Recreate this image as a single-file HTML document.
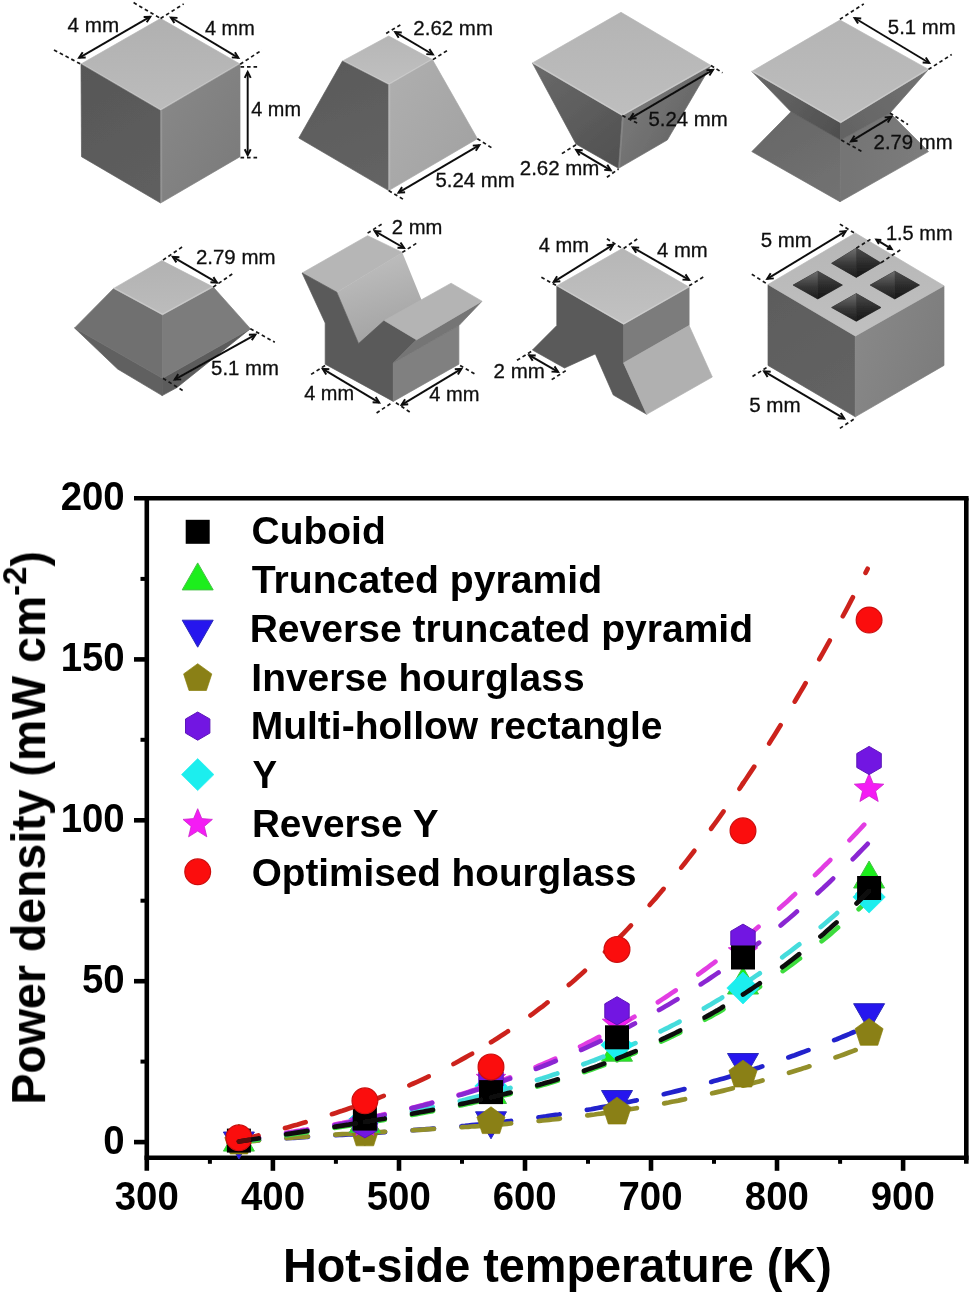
<!DOCTYPE html>
<html lang="en">
<head>
<meta charset="utf-8">
<title>Thermoelectric leg geometries and power density</title>
<style>
html,body{margin:0;padding:0;background:#fff;}
body{width:973px;height:1296px;overflow:hidden;}
svg{display:block;font-family:"Liberation Sans", Arial, Helvetica, sans-serif;}
</style>
</head>
<body>
<svg width="973" height="1296" viewBox="0 0 973 1296">
<rect width="973" height="1296" fill="#ffffff"/>
<defs>
<filter id="soft" x="-5%" y="-5%" width="110%" height="110%"><feGaussianBlur stdDeviation="0.6"/></filter>
<filter id="soft2" x="-5%" y="-5%" width="110%" height="110%"><feGaussianBlur stdDeviation="0.42"/></filter>
<linearGradient id="gSlope" x1="0" y1="0" x2="0.3" y2="1"><stop offset="0" stop-color="#c2c2c2"/><stop offset="1" stop-color="#a4a4a4"/></linearGradient>
<linearGradient id="gHoleL" x1="0" y1="0" x2="0" y2="1"><stop offset="0" stop-color="#707070"/><stop offset="0.55" stop-color="#383838"/><stop offset="1" stop-color="#1c1c1c"/></linearGradient>
<linearGradient id="gHoleR" x1="0" y1="0" x2="0" y2="1"><stop offset="0" stop-color="#4c4c4c"/><stop offset="0.55" stop-color="#2a2a2a"/><stop offset="1" stop-color="#161616"/></linearGradient>
</defs>
<g id="shapes" filter="url(#soft)">
<linearGradient id="lg1" gradientUnits="userSpaceOnUse" x1="160.6" y1="18.5" x2="160.6" y2="110.5"><stop offset="0" stop-color="#b0b0b0"/><stop offset="1" stop-color="#bcbcbc"/></linearGradient>
<polygon points="160.6,18.5 240.0,64.0 160.6,110.5 81.0,64.0" fill="url(#lg1)" stroke="url(#lg1)" stroke-width="0.7" stroke-linejoin="round"/>
<linearGradient id="lg2" gradientUnits="userSpaceOnUse" x1="81.0" y1="64.0" x2="160.6" y2="203.0"><stop offset="0" stop-color="#575757"/><stop offset="1" stop-color="#5f5f5f"/></linearGradient>
<polygon points="81.0,64.0 160.6,110.5 160.6,203.0 81.5,156.7" fill="url(#lg2)" stroke="url(#lg2)" stroke-width="0.7" stroke-linejoin="round"/>
<linearGradient id="lg3" gradientUnits="userSpaceOnUse" x1="160.6" y1="110.5" x2="240.0" y2="156.7"><stop offset="0" stop-color="#878787"/><stop offset="1" stop-color="#7c7c7c"/></linearGradient>
<polygon points="160.6,110.5 240.0,64.0 240.0,156.7 160.6,203.0" fill="url(#lg3)" stroke="url(#lg3)" stroke-width="0.7" stroke-linejoin="round"/>
<polyline points="81.0,63.4 160.6,109.9 240.0,63.4" fill="none" stroke="#ffffff" stroke-opacity="0.22" stroke-width="1.3" stroke-linejoin="round"/>
<polyline points="161.5,110.5 161.5,203.0" fill="none" stroke="#ffffff" stroke-opacity="0.14" stroke-width="1.4" stroke-linejoin="round"/>
<linearGradient id="lg4" gradientUnits="userSpaceOnUse" x1="388.7" y1="36.0" x2="388.7" y2="84.8"><stop offset="0" stop-color="#b6b6b6"/><stop offset="1" stop-color="#c0c0c0"/></linearGradient>
<polygon points="388.7,36.0 432.4,59.6 388.7,84.8 342.5,61.0" fill="url(#lg4)" stroke="url(#lg4)" stroke-width="0.7" stroke-linejoin="round"/>
<linearGradient id="lg5" gradientUnits="userSpaceOnUse" x1="342.5" y1="61.0" x2="388.7" y2="190.6"><stop offset="0" stop-color="#5a5a5a"/><stop offset="1" stop-color="#646464"/></linearGradient>
<polygon points="342.5,61.0 388.7,84.8 388.7,190.6 298.8,138.0" fill="url(#lg5)" stroke="url(#lg5)" stroke-width="0.7" stroke-linejoin="round"/>
<linearGradient id="lg6" gradientUnits="userSpaceOnUse" x1="388.7" y1="84.8" x2="477.4" y2="138.7"><stop offset="0" stop-color="#aeaeae"/><stop offset="1" stop-color="#a3a3a3"/></linearGradient>
<polygon points="388.7,84.8 432.4,59.6 477.4,138.7 388.7,190.6" fill="url(#lg6)" stroke="url(#lg6)" stroke-width="0.7" stroke-linejoin="round"/>
<polyline points="342.5,60.4 388.7,84.2 432.4,59.0" fill="none" stroke="#ffffff" stroke-opacity="0.22" stroke-width="1.3" stroke-linejoin="round"/>
<polyline points="389.6,84.8 389.6,190.6" fill="none" stroke="#ffffff" stroke-opacity="0.14" stroke-width="1.4" stroke-linejoin="round"/>
<linearGradient id="lg7" gradientUnits="userSpaceOnUse" x1="532.4" y1="63.0" x2="618.5" y2="168.3"><stop offset="0" stop-color="#6a6a6a"/><stop offset="1" stop-color="#505050"/></linearGradient>
<polygon points="532.4,63.0 622.3,115.6 618.5,168.3 576.0,144.0" fill="url(#lg7)" stroke="url(#lg7)" stroke-width="0.7" stroke-linejoin="round"/>
<linearGradient id="lg8" gradientUnits="userSpaceOnUse" x1="622.3" y1="115.6" x2="667.3" y2="140.0"><stop offset="0" stop-color="#787878"/><stop offset="1" stop-color="#6a6a6a"/></linearGradient>
<polygon points="622.3,115.6 711.0,65.5 667.3,140.0 618.5,168.3" fill="url(#lg8)" stroke="url(#lg8)" stroke-width="0.7" stroke-linejoin="round"/>
<linearGradient id="lg9" gradientUnits="userSpaceOnUse" x1="621.0" y1="12.3" x2="622.3" y2="115.6"><stop offset="0" stop-color="#b4b4b4"/><stop offset="1" stop-color="#bebebe"/></linearGradient>
<polygon points="621.0,12.3 711.0,65.5 622.3,115.6 532.4,63.0" fill="url(#lg9)" stroke="url(#lg9)" stroke-width="0.7" stroke-linejoin="round"/>
<polyline points="532.4,62.4 622.3,115.0 711.0,64.9" fill="none" stroke="#ffffff" stroke-opacity="0.22" stroke-width="1.3" stroke-linejoin="round"/>
<polyline points="623.2,115.6 619.4,168.3" fill="none" stroke="#ffffff" stroke-opacity="0.12" stroke-width="1.3" stroke-linejoin="round"/>
<linearGradient id="lg10" gradientUnits="userSpaceOnUse" x1="791.0" y1="111.8" x2="840.0" y2="201.7"><stop offset="0" stop-color="#686868"/><stop offset="1" stop-color="#727272"/></linearGradient>
<polygon points="791.0,111.8 840.7,140.0 840.0,201.7 751.8,151.6" fill="url(#lg10)" stroke="url(#lg10)" stroke-width="0.7" stroke-linejoin="round"/>
<linearGradient id="lg11" gradientUnits="userSpaceOnUse" x1="840.7" y1="140.0" x2="928.5" y2="151.6"><stop offset="0" stop-color="#747474"/><stop offset="1" stop-color="#7c7c7c"/></linearGradient>
<polygon points="840.7,140.0 890.0,113.0 928.5,151.6 840.0,201.7" fill="url(#lg11)" stroke="url(#lg11)" stroke-width="0.7" stroke-linejoin="round"/>
<linearGradient id="lg12" gradientUnits="userSpaceOnUse" x1="751.8" y1="71.4" x2="840.7" y2="140.0"><stop offset="0" stop-color="#6a6a6a"/><stop offset="1" stop-color="#4e4e4e"/></linearGradient>
<polygon points="751.8,71.4 840.7,122.8 840.7,140.0 791.0,111.8" fill="url(#lg12)" stroke="url(#lg12)" stroke-width="0.7" stroke-linejoin="round"/>
<linearGradient id="lg13" gradientUnits="userSpaceOnUse" x1="840.7" y1="140.0" x2="928.5" y2="69.4"><stop offset="0" stop-color="#626262"/><stop offset="1" stop-color="#727272"/></linearGradient>
<polygon points="840.7,122.8 928.5,69.4 890.0,113.0 840.7,140.0" fill="url(#lg13)" stroke="url(#lg13)" stroke-width="0.7" stroke-linejoin="round"/>
<linearGradient id="lg14" gradientUnits="userSpaceOnUse" x1="840.0" y1="20.0" x2="840.7" y2="122.8"><stop offset="0" stop-color="#b4b4b4"/><stop offset="1" stop-color="#bebebe"/></linearGradient>
<polygon points="840.0,20.0 928.5,69.4 840.7,122.8 751.8,71.4" fill="url(#lg14)" stroke="url(#lg14)" stroke-width="0.7" stroke-linejoin="round"/>
<polyline points="751.8,70.8 840.7,122.2 928.5,68.8" fill="none" stroke="#ffffff" stroke-opacity="0.22" stroke-width="1.3" stroke-linejoin="round"/>
<polygon points="74.6,328.0 162.5,378.3 162.2,395.6 117.6,369.0" fill="#606060"  stroke="#606060" stroke-width="0.7" stroke-linejoin="round"/>
<polygon points="162.5,378.3 250.4,328.7 177.0,387.5 162.2,395.6" fill="#5c5c5c"  stroke="#5c5c5c" stroke-width="0.7" stroke-linejoin="round"/>
<polygon points="113.7,288.4 162.5,314.8 162.5,378.3 74.6,328.0" fill="#707070"  stroke="#707070" stroke-width="0.7" stroke-linejoin="round"/>
<polygon points="162.5,314.8 213.2,287.0 250.4,328.7 162.5,378.3" fill="#7c7c7c"  stroke="#7c7c7c" stroke-width="0.7" stroke-linejoin="round"/>
<linearGradient id="lg15" gradientUnits="userSpaceOnUse" x1="161.8" y1="260.6" x2="162.5" y2="314.8"><stop offset="0" stop-color="#b2b2b2"/><stop offset="1" stop-color="#bcbcbc"/></linearGradient>
<polygon points="161.8,260.6 213.2,287.0 162.5,314.8 113.7,288.4" fill="url(#lg15)" stroke="url(#lg15)" stroke-width="0.7" stroke-linejoin="round"/>
<polyline points="113.7,287.8 162.5,314.2 213.2,286.4" fill="none" stroke="#ffffff" stroke-opacity="0.22" stroke-width="1.3" stroke-linejoin="round"/>
<polygon points="336.8,292.2 402.3,252.4 424.1,306.3 358.6,343.6" fill="url(#gSlope)" />
<polygon points="302.1,273.0 367.6,235.7 402.3,252.4 336.8,292.2" fill="#b6b6b6"  stroke="#b6b6b6" stroke-width="0.7" stroke-linejoin="round"/>
<polygon points="302.1,273.0 336.8,292.2 358.6,343.6 384.3,320.5 416.5,339.8 393.3,362.9 393.3,401.4 325.2,364.2 325.2,323.0" fill="#5a5a5a"  stroke="#5a5a5a" stroke-width="0.7" stroke-linejoin="round"/>
<polygon points="393.3,362.9 458.9,325.6 458.9,364.2 393.3,401.4" fill="#808080"  stroke="#808080" stroke-width="0.7" stroke-linejoin="round"/>
<polygon points="416.5,339.8 482.0,301.2 458.9,325.6 393.3,362.9" fill="#747474"  stroke="#747474" stroke-width="0.7" stroke-linejoin="round"/>
<polygon points="451.1,283.2 482.0,301.2 416.5,339.8 384.3,320.5" fill="#b4b4b4"  stroke="#b4b4b4" stroke-width="0.7" stroke-linejoin="round"/>
<polygon points="556.8,285.8 623.6,324.3 623.6,362.9 646.7,414.3 613.3,395.0 595.3,353.9 564.5,368.0 532.4,350.0 556.8,325.6" fill="#5a5a5a"  stroke="#5a5a5a" stroke-width="0.7" stroke-linejoin="round"/>
<polygon points="623.6,324.3 689.1,287.1 689.1,325.6 623.6,362.9" fill="#7c7c7c"  stroke="#7c7c7c" stroke-width="0.7" stroke-linejoin="round"/>
<polygon points="623.6,362.9 689.1,325.6 712.3,377.0 646.7,414.3" fill="#b0b0b0"  stroke="#b0b0b0" stroke-width="0.7" stroke-linejoin="round"/>
<linearGradient id="lg16" gradientUnits="userSpaceOnUse" x1="622.3" y1="248.5" x2="623.6" y2="324.3"><stop offset="0" stop-color="#b6b6b6"/><stop offset="1" stop-color="#c2c2c2"/></linearGradient>
<polygon points="622.3,248.5 689.1,287.1 623.6,324.3 556.8,285.8" fill="url(#lg16)" stroke="url(#lg16)" stroke-width="0.7" stroke-linejoin="round"/>
<polyline points="556.8,285.2 623.6,323.7 689.1,286.5" fill="none" stroke="#ffffff" stroke-opacity="0.22" stroke-width="1.3" stroke-linejoin="round"/>
<linearGradient id="lg17" gradientUnits="userSpaceOnUse" x1="768.0" y1="284.5" x2="855.3" y2="416.8"><stop offset="0" stop-color="#5c5c5c"/><stop offset="1" stop-color="#646464"/></linearGradient>
<polygon points="768.0,284.5 855.3,336.0 855.3,416.8 768.0,365.4" fill="url(#lg17)" stroke="url(#lg17)" stroke-width="0.7" stroke-linejoin="round"/>
<linearGradient id="lg18" gradientUnits="userSpaceOnUse" x1="855.3" y1="336.0" x2="944.0" y2="365.4"><stop offset="0" stop-color="#888888"/><stop offset="1" stop-color="#7c7c7c"/></linearGradient>
<polygon points="855.3,336.0 944.0,285.8 944.0,365.4 855.3,416.8" fill="url(#lg18)" stroke="url(#lg18)" stroke-width="0.7" stroke-linejoin="round"/>
<linearGradient id="lg19" gradientUnits="userSpaceOnUse" x1="855.3" y1="233.0" x2="855.3" y2="336.0"><stop offset="0" stop-color="#b6b6b6"/><stop offset="1" stop-color="#c0c0c0"/></linearGradient>
<polygon points="855.3,233.0 944.0,285.8 855.3,336.0 768.0,284.5" fill="url(#lg19)" stroke="url(#lg19)" stroke-width="0.7" stroke-linejoin="round"/>
<polygon points="856.3,248.1 881.0,262.9 856.3,277.4 831.6,263.3" fill="#303030"  stroke="#303030" stroke-width="0.7" stroke-linejoin="round"/>
<polygon points="856.3,248.1 881.0,262.9 856.3,277.4" fill="url(#gHoleR)" />
<polygon points="856.3,248.1 831.6,263.3 856.3,277.4" fill="url(#gHoleL)" />
<polygon points="817.8,271.2 842.4,285.1 817.8,299.0 793.1,285.1" fill="#303030"  stroke="#303030" stroke-width="0.7" stroke-linejoin="round"/>
<polygon points="817.8,271.2 842.4,285.1 817.8,299.0" fill="url(#gHoleR)" />
<polygon points="817.8,271.2 793.1,285.1 817.8,299.0" fill="url(#gHoleL)" />
<polygon points="894.8,271.2 919.5,285.1 894.8,299.0 870.2,285.1" fill="#303030"  stroke="#303030" stroke-width="0.7" stroke-linejoin="round"/>
<polygon points="894.8,271.2 919.5,285.1 894.8,299.0" fill="url(#gHoleR)" />
<polygon points="894.8,271.2 870.2,285.1 894.8,299.0" fill="url(#gHoleL)" />
<polygon points="856.3,293.6 881.0,307.5 856.3,321.3 831.6,307.5" fill="#303030"  stroke="#303030" stroke-width="0.7" stroke-linejoin="round"/>
<polygon points="856.3,293.6 881.0,307.5 856.3,321.3" fill="url(#gHoleR)" />
<polygon points="856.3,293.6 831.6,307.5 856.3,321.3" fill="url(#gHoleL)" />
</g>
<g id="dims" filter="url(#soft2)">
<line x1="79.1" y1="57.8" x2="150.3" y2="16.7" stroke="#111" stroke-width="1.95" />
<polyline points="82.7,52.3 79.1,57.8 85.7,57.5" fill="none" stroke="#111" stroke-width="1.95" stroke-linejoin="miter"/>
<polyline points="146.7,22.2 150.3,16.7 143.7,17.0" fill="none" stroke="#111" stroke-width="1.95" stroke-linejoin="miter"/>
<line x1="54.0" y1="50.1" x2="81.0" y2="64.2" stroke="#161616" stroke-width="1.7" stroke-dasharray="3.6 2.9"/>
<line x1="133.6" y1="2.6" x2="160.6" y2="18.5" stroke="#161616" stroke-width="1.7" stroke-dasharray="3.6 2.9"/>
<text x="67.59" y="32.1" font-size="19.5" fill="#101010" stroke="#101010" stroke-width="0.3" textLength="51.56" lengthAdjust="spacingAndGlyphs">4 mm</text>
<line x1="170.9" y1="17.5" x2="238.4" y2="57.8" stroke="#111" stroke-width="1.95" />
<polyline points="177.5,17.9 170.9,17.5 174.4,23.1" fill="none" stroke="#111" stroke-width="1.95" stroke-linejoin="miter"/>
<polyline points="231.8,57.4 238.4,57.8 234.9,52.2" fill="none" stroke="#111" stroke-width="1.95" stroke-linejoin="miter"/>
<line x1="160.6" y1="18.5" x2="183.7" y2="3.9" stroke="#161616" stroke-width="1.7" stroke-dasharray="3.6 2.9"/>
<line x1="240.2" y1="64.2" x2="262.0" y2="50.0" stroke="#161616" stroke-width="1.7" stroke-dasharray="3.6 2.9"/>
<text x="205.00" y="35.4" font-size="19.5" fill="#101010" stroke="#101010" stroke-width="0.3" textLength="49.68" lengthAdjust="spacingAndGlyphs">4 mm</text>
<line x1="247.7" y1="72.0" x2="247.7" y2="155.2" stroke="#111" stroke-width="1.95" />
<polyline points="250.7,77.9 247.7,72.0 244.7,77.9" fill="none" stroke="#111" stroke-width="1.95" stroke-linejoin="miter"/>
<polyline points="244.7,149.3 247.7,155.2 250.7,149.3" fill="none" stroke="#111" stroke-width="1.95" stroke-linejoin="miter"/>
<line x1="240.5" y1="66.9" x2="259.5" y2="66.9" stroke="#161616" stroke-width="1.7" stroke-dasharray="3.6 2.9"/>
<line x1="240.5" y1="157.6" x2="259.5" y2="157.6" stroke="#161616" stroke-width="1.7" stroke-dasharray="3.6 2.9"/>
<text x="251.30" y="115.6" font-size="19.5" fill="#101010" stroke="#101010" stroke-width="0.3" textLength="49.68" lengthAdjust="spacingAndGlyphs">4 mm</text>
<line x1="395.2" y1="32.1" x2="432.9" y2="54.5" stroke="#111" stroke-width="1.95" />
<polyline points="401.8,32.5 395.2,32.1 398.7,37.7" fill="none" stroke="#111" stroke-width="1.95" stroke-linejoin="miter"/>
<polyline points="426.3,54.1 432.9,54.5 429.4,48.9" fill="none" stroke="#111" stroke-width="1.95" stroke-linejoin="miter"/>
<line x1="386.2" y1="33.4" x2="400.3" y2="24.9" stroke="#161616" stroke-width="1.7" stroke-dasharray="3.6 2.9"/>
<line x1="432.9" y1="59.6" x2="447.8" y2="50.1" stroke="#161616" stroke-width="1.7" stroke-dasharray="3.6 2.9"/>
<text x="413.38" y="34.7" font-size="19.5" fill="#101010" stroke="#101010" stroke-width="0.3" textLength="79.55" lengthAdjust="spacingAndGlyphs">2.62 mm</text>
<line x1="398.5" y1="192.7" x2="479.4" y2="145.2" stroke="#111" stroke-width="1.95" />
<polyline points="402.1,187.1 398.5,192.7 405.1,192.3" fill="none" stroke="#111" stroke-width="1.95" stroke-linejoin="miter"/>
<polyline points="475.8,150.8 479.4,145.2 472.8,145.6" fill="none" stroke="#111" stroke-width="1.95" stroke-linejoin="miter"/>
<line x1="388.7" y1="190.6" x2="404.2" y2="199.9" stroke="#161616" stroke-width="1.7" stroke-dasharray="3.6 2.9"/>
<line x1="477.4" y1="138.7" x2="492.8" y2="148.5" stroke="#161616" stroke-width="1.7" stroke-dasharray="3.6 2.9"/>
<text x="435.49" y="187.0" font-size="19.5" fill="#101010" stroke="#101010" stroke-width="0.3" textLength="79.24" lengthAdjust="spacingAndGlyphs">5.24 mm</text>
<line x1="630.0" y1="118.7" x2="713.0" y2="69.9" stroke="#111" stroke-width="1.95" />
<polyline points="633.6,113.1 630.0,118.7 636.6,118.3" fill="none" stroke="#111" stroke-width="1.95" stroke-linejoin="miter"/>
<polyline points="709.4,75.5 713.0,69.9 706.4,70.3" fill="none" stroke="#111" stroke-width="1.95" stroke-linejoin="miter"/>
<line x1="711.0" y1="65.5" x2="722.5" y2="72.7" stroke="#161616" stroke-width="1.7" stroke-dasharray="3.6 2.9"/>
<line x1="622.3" y1="115.6" x2="637.7" y2="123.3" stroke="#161616" stroke-width="1.7" stroke-dasharray="3.6 2.9"/>
<text x="648.49" y="126.4" font-size="19.5" fill="#101010" stroke="#101010" stroke-width="0.3" textLength="79.34" lengthAdjust="spacingAndGlyphs">5.24 mm</text>
<line x1="576.1" y1="149.8" x2="610.8" y2="170.3" stroke="#111" stroke-width="1.95" />
<polyline points="582.7,150.2 576.1,149.8 579.6,155.4" fill="none" stroke="#111" stroke-width="1.95" stroke-linejoin="miter"/>
<polyline points="604.2,169.9 610.8,170.3 607.3,164.7" fill="none" stroke="#111" stroke-width="1.95" stroke-linejoin="miter"/>
<line x1="561.9" y1="153.6" x2="576.1" y2="144.7" stroke="#161616" stroke-width="1.7" stroke-dasharray="3.6 2.9"/>
<line x1="606.9" y1="177.3" x2="618.5" y2="169.0" stroke="#161616" stroke-width="1.7" stroke-dasharray="3.6 2.9"/>
<text x="519.78" y="175.2" font-size="19.5" fill="#101010" stroke="#101010" stroke-width="0.3" textLength="79.55" lengthAdjust="spacingAndGlyphs">2.62 mm</text>
<line x1="854.6" y1="18.0" x2="929.3" y2="63.0" stroke="#111" stroke-width="1.95" />
<polyline points="861.2,18.5 854.6,18.0 858.1,23.6" fill="none" stroke="#111" stroke-width="1.95" stroke-linejoin="miter"/>
<polyline points="922.7,62.5 929.3,63.0 925.8,57.4" fill="none" stroke="#111" stroke-width="1.95" stroke-linejoin="miter"/>
<line x1="839.9" y1="19.3" x2="863.8" y2="3.9" stroke="#161616" stroke-width="1.7" stroke-dasharray="3.6 2.9"/>
<line x1="928.5" y1="69.4" x2="951.7" y2="54.5" stroke="#161616" stroke-width="1.7" stroke-dasharray="3.6 2.9"/>
<text x="887.89" y="33.9" font-size="19.5" fill="#101010" stroke="#101010" stroke-width="0.3" textLength="67.73" lengthAdjust="spacingAndGlyphs">5.1 mm</text>
<line x1="851.0" y1="141.3" x2="891.3" y2="116.9" stroke="#111" stroke-width="1.95" />
<polyline points="854.5,135.7 851.0,141.3 857.6,140.8" fill="none" stroke="#111" stroke-width="1.95" stroke-linejoin="miter"/>
<polyline points="887.8,122.5 891.3,116.9 884.7,117.4" fill="none" stroke="#111" stroke-width="1.95" stroke-linejoin="miter"/>
<line x1="841.2" y1="140.0" x2="863.0" y2="152.1" stroke="#161616" stroke-width="1.7" stroke-dasharray="3.6 2.9"/>
<line x1="890.0" y1="113.0" x2="908.0" y2="124.6" stroke="#161616" stroke-width="1.7" stroke-dasharray="3.6 2.9"/>
<text x="873.59" y="149.0" font-size="19.5" fill="#101010" stroke="#101010" stroke-width="0.3" textLength="79.03" lengthAdjust="spacingAndGlyphs">2.79 mm</text>
<line x1="172.8" y1="256.8" x2="217.0" y2="282.7" stroke="#111" stroke-width="1.95" />
<polyline points="179.4,257.2 172.8,256.8 176.4,262.4" fill="none" stroke="#111" stroke-width="1.95" stroke-linejoin="miter"/>
<polyline points="210.4,282.3 217.0,282.7 213.4,277.1" fill="none" stroke="#111" stroke-width="1.95" stroke-linejoin="miter"/>
<line x1="163.0" y1="260.1" x2="183.6" y2="246.0" stroke="#161616" stroke-width="1.7" stroke-dasharray="3.6 2.9"/>
<line x1="213.2" y1="287.1" x2="233.7" y2="273.0" stroke="#161616" stroke-width="1.7" stroke-dasharray="3.6 2.9"/>
<text x="195.98" y="264.0" font-size="19.5" fill="#101010" stroke="#101010" stroke-width="0.3" textLength="79.45" lengthAdjust="spacingAndGlyphs">2.79 mm</text>
<line x1="174.6" y1="379.6" x2="255.5" y2="334.6" stroke="#111" stroke-width="1.95" />
<polyline points="178.3,374.1 174.6,379.6 181.2,379.4" fill="none" stroke="#111" stroke-width="1.95" stroke-linejoin="miter"/>
<polyline points="251.8,340.1 255.5,334.6 248.9,334.8" fill="none" stroke="#111" stroke-width="1.95" stroke-linejoin="miter"/>
<line x1="163.0" y1="378.3" x2="184.9" y2="391.9" stroke="#161616" stroke-width="1.7" stroke-dasharray="3.6 2.9"/>
<line x1="250.4" y1="328.7" x2="274.8" y2="342.3" stroke="#161616" stroke-width="1.7" stroke-dasharray="3.6 2.9"/>
<text x="211.09" y="375.0" font-size="19.5" fill="#101010" stroke="#101010" stroke-width="0.3" textLength="67.73" lengthAdjust="spacingAndGlyphs">5.1 mm</text>
<line x1="374.8" y1="231.1" x2="404.1" y2="248.0" stroke="#111" stroke-width="1.95" />
<polyline points="381.4,231.4 374.8,231.1 378.4,236.6" fill="none" stroke="#111" stroke-width="1.95" stroke-linejoin="miter"/>
<polyline points="397.5,247.7 404.1,248.0 400.5,242.5" fill="none" stroke="#111" stroke-width="1.95" stroke-linejoin="miter"/>
<line x1="367.6" y1="233.1" x2="381.8" y2="224.1" stroke="#161616" stroke-width="1.7" stroke-dasharray="3.6 2.9"/>
<line x1="402.3" y1="252.4" x2="417.0" y2="242.9" stroke="#161616" stroke-width="1.7" stroke-dasharray="3.6 2.9"/>
<text x="391.79" y="234.4" font-size="19.5" fill="#101010" stroke="#101010" stroke-width="0.3" textLength="50.52" lengthAdjust="spacingAndGlyphs">2 mm</text>
<line x1="322.7" y1="368.8" x2="379.2" y2="402.7" stroke="#111" stroke-width="1.95" />
<polyline points="329.3,369.3 322.7,368.8 326.2,374.4" fill="none" stroke="#111" stroke-width="1.95" stroke-linejoin="miter"/>
<polyline points="372.6,402.2 379.2,402.7 375.7,397.1" fill="none" stroke="#111" stroke-width="1.95" stroke-linejoin="miter"/>
<line x1="311.1" y1="374.4" x2="325.2" y2="365.4" stroke="#161616" stroke-width="1.7" stroke-dasharray="3.6 2.9"/>
<line x1="376.6" y1="413.0" x2="392.0" y2="402.7" stroke="#161616" stroke-width="1.7" stroke-dasharray="3.6 2.9"/>
<text x="304.20" y="400.1" font-size="19.5" fill="#101010" stroke="#101010" stroke-width="0.3" textLength="49.89" lengthAdjust="spacingAndGlyphs">4 mm</text>
<line x1="401.6" y1="404.8" x2="461.4" y2="368.8" stroke="#111" stroke-width="1.95" />
<polyline points="405.1,399.2 401.6,404.8 408.2,404.3" fill="none" stroke="#111" stroke-width="1.95" stroke-linejoin="miter"/>
<polyline points="457.9,374.4 461.4,368.8 454.8,369.3" fill="none" stroke="#111" stroke-width="1.95" stroke-linejoin="miter"/>
<line x1="395.9" y1="402.7" x2="411.3" y2="413.0" stroke="#161616" stroke-width="1.7" stroke-dasharray="3.6 2.9"/>
<line x1="460.1" y1="365.4" x2="475.5" y2="374.4" stroke="#161616" stroke-width="1.7" stroke-dasharray="3.6 2.9"/>
<text x="429.30" y="401.4" font-size="19.5" fill="#101010" stroke="#101010" stroke-width="0.3" textLength="50.20" lengthAdjust="spacingAndGlyphs">4 mm</text>
<line x1="553.7" y1="281.9" x2="613.3" y2="244.7" stroke="#111" stroke-width="1.95" />
<polyline points="557.1,276.2 553.7,281.9 560.3,281.3" fill="none" stroke="#111" stroke-width="1.95" stroke-linejoin="miter"/>
<polyline points="609.9,250.4 613.3,244.7 606.7,245.3" fill="none" stroke="#111" stroke-width="1.95" stroke-linejoin="miter"/>
<line x1="541.4" y1="277.3" x2="556.8" y2="285.8" stroke="#161616" stroke-width="1.7" stroke-dasharray="3.6 2.9"/>
<line x1="606.9" y1="238.8" x2="622.3" y2="248.5" stroke="#161616" stroke-width="1.7" stroke-dasharray="3.6 2.9"/>
<text x="538.80" y="252.4" font-size="19.5" fill="#101010" stroke="#101010" stroke-width="0.3" textLength="50.20" lengthAdjust="spacingAndGlyphs">4 mm</text>
<line x1="632.6" y1="247.3" x2="689.1" y2="279.9" stroke="#111" stroke-width="1.95" />
<polyline points="639.2,247.6 632.6,247.3 636.2,252.8" fill="none" stroke="#111" stroke-width="1.95" stroke-linejoin="miter"/>
<polyline points="682.5,279.6 689.1,279.9 685.5,274.4" fill="none" stroke="#111" stroke-width="1.95" stroke-linejoin="miter"/>
<line x1="623.6" y1="248.5" x2="639.0" y2="237.7" stroke="#161616" stroke-width="1.7" stroke-dasharray="3.6 2.9"/>
<line x1="689.1" y1="285.8" x2="704.5" y2="276.3" stroke="#161616" stroke-width="1.7" stroke-dasharray="3.6 2.9"/>
<text x="656.99" y="257.0" font-size="19.5" fill="#101010" stroke="#101010" stroke-width="0.3" textLength="50.72" lengthAdjust="spacingAndGlyphs">4 mm</text>
<line x1="529.1" y1="355.2" x2="558.1" y2="371.9" stroke="#111" stroke-width="1.95" />
<polyline points="535.7,355.5 529.1,355.2 532.7,360.7" fill="none" stroke="#111" stroke-width="1.95" stroke-linejoin="miter"/>
<polyline points="551.5,371.6 558.1,371.9 554.5,366.4" fill="none" stroke="#111" stroke-width="1.95" stroke-linejoin="miter"/>
<line x1="517.0" y1="360.3" x2="532.4" y2="350.8" stroke="#161616" stroke-width="1.7" stroke-dasharray="3.6 2.9"/>
<line x1="551.7" y1="379.6" x2="565.8" y2="370.6" stroke="#161616" stroke-width="1.7" stroke-dasharray="3.6 2.9"/>
<text x="493.58" y="378.3" font-size="19.5" fill="#101010" stroke="#101010" stroke-width="0.3" textLength="51.26" lengthAdjust="spacingAndGlyphs">2 mm</text>
<line x1="767.2" y1="278.9" x2="845.8" y2="231.1" stroke="#111" stroke-width="1.95" />
<polyline points="770.7,273.3 767.2,278.9 773.8,278.4" fill="none" stroke="#111" stroke-width="1.95" stroke-linejoin="miter"/>
<polyline points="842.3,236.7 845.8,231.1 839.2,231.6" fill="none" stroke="#111" stroke-width="1.95" stroke-linejoin="miter"/>
<line x1="751.8" y1="274.2" x2="768.0" y2="284.5" stroke="#161616" stroke-width="1.7" stroke-dasharray="3.6 2.9"/>
<line x1="839.9" y1="224.1" x2="855.3" y2="233.6" stroke="#161616" stroke-width="1.7" stroke-dasharray="3.6 2.9"/>
<text x="760.68" y="247.3" font-size="19.5" fill="#101010" stroke="#101010" stroke-width="0.3" textLength="51.15" lengthAdjust="spacingAndGlyphs">5 mm</text>
<line x1="876.3" y1="239.6" x2="891.8" y2="249.2" stroke="#111" stroke-width="1.95" />
<polyline points="881.3,240.0 876.3,239.6 878.9,243.9" fill="none" stroke="#111" stroke-width="1.95" stroke-linejoin="miter"/>
<polyline points="886.8,248.8 891.8,249.2 889.2,244.9" fill="none" stroke="#111" stroke-width="1.95" stroke-linejoin="miter"/>
<line x1="856.3" y1="248.1" x2="872.5" y2="238.1" stroke="#161616" stroke-width="1.7" stroke-dasharray="3.6 2.9"/>
<line x1="881.0" y1="262.7" x2="901.8" y2="248.9" stroke="#161616" stroke-width="1.7" stroke-dasharray="3.6 2.9"/>
<text x="885.90" y="239.5" font-size="19.5" fill="#101010" stroke="#101010" stroke-width="0.3" textLength="66.70" lengthAdjust="spacingAndGlyphs">1.5 mm</text>
<line x1="764.1" y1="371.4" x2="844.3" y2="418.6" stroke="#111" stroke-width="1.95" />
<polyline points="770.7,371.8 764.1,371.4 767.6,377.0" fill="none" stroke="#111" stroke-width="1.95" stroke-linejoin="miter"/>
<polyline points="837.7,418.2 844.3,418.6 840.8,413.0" fill="none" stroke="#111" stroke-width="1.95" stroke-linejoin="miter"/>
<line x1="752.5" y1="376.5" x2="768.0" y2="366.7" stroke="#161616" stroke-width="1.7" stroke-dasharray="3.6 2.9"/>
<line x1="839.9" y1="428.4" x2="855.3" y2="418.1" stroke="#161616" stroke-width="1.7" stroke-dasharray="3.6 2.9"/>
<text x="749.18" y="411.7" font-size="19.5" fill="#101010" stroke="#101010" stroke-width="0.3" textLength="51.56" lengthAdjust="spacingAndGlyphs">5 mm</text>
</g>
<g id="chart" filter="url(#soft2)">
<g stroke="#050505" stroke-width="4.6" fill="none" stroke-linecap="butt">
<path d="M134,498.3 H968.6"/>
<path d="M146.8,496.0 V1170.8"/>
<path d="M144.5,1157.8 H968.6"/>
<path d="M966.3,498.3 V1163.8"/>
<path d="M134,1142.1 H146.8"/>
<path d="M134,981.2 H146.8"/>
<path d="M134,820.3 H146.8"/>
<path d="M134,659.4 H146.8"/>
<path d="M272.9,1157.8 V1170.8"/>
<path d="M399.0,1157.8 V1170.8"/>
<path d="M525.0,1157.8 V1170.8"/>
<path d="M651.0,1157.8 V1170.8"/>
<path d="M777.0,1157.8 V1170.8"/>
<path d="M903.1,1157.8 V1170.8"/>
</g>
<g stroke="#050505" stroke-width="4" fill="none">
<path d="M140.5,1061.6 H146.8"/>
<path d="M140.5,900.7 H146.8"/>
<path d="M140.5,739.8 H146.8"/>
<path d="M140.5,578.9 H146.8"/>
<path d="M209.9,1157.8 V1163.8"/>
<path d="M335.9,1157.8 V1163.8"/>
<path d="M462.0,1157.8 V1163.8"/>
<path d="M588.0,1157.8 V1163.8"/>
<path d="M714.0,1157.8 V1163.8"/>
<path d="M840.1,1157.8 V1163.8"/>
</g>
<g id="series" filter="url(#soft)">
<path d="M238.9,1141.5 L242.1,1141.2 L245.4,1141.0 L248.6,1140.8 L251.8,1140.5 L255.1,1140.3 L258.3,1140.1 L261.5,1139.9 L264.8,1139.6 L268.0,1139.4 L271.2,1139.2 L274.4,1139.0 L277.7,1138.8 L280.9,1138.6 L284.1,1138.4 L287.4,1138.2 L290.6,1138.0 L293.8,1137.8 L297.1,1137.6 L300.3,1137.4 L303.5,1137.2 L306.8,1137.0 L310.0,1136.8 L313.2,1136.6 L316.5,1136.4 L319.7,1136.2 L322.9,1136.0 L326.2,1135.8 L329.4,1135.6 L332.6,1135.4 L335.8,1135.2 L339.1,1135.0 L342.3,1134.8 L345.5,1134.6 L348.8,1134.5 L352.0,1134.3 L355.2,1134.1 L358.5,1133.9 L361.7,1133.7 L364.9,1133.5" fill="none" stroke="#2222cc" stroke-width="4.7" stroke-linecap="round" stroke-dasharray="21.4 27.6" stroke-dashoffset="1.2"/>
<path d="M364.9,1133.5 L368.2,1133.3 L371.4,1133.1 L374.6,1132.8 L377.9,1132.6 L381.1,1132.4 L384.3,1132.2 L387.6,1132.0 L390.8,1131.8 L394.0,1131.6 L397.2,1131.3 L400.5,1131.1 L403.7,1130.9 L406.9,1130.7 L410.2,1130.4 L413.4,1130.2 L416.6,1129.9 L419.9,1129.7 L423.1,1129.5 L426.3,1129.2 L429.6,1129.0 L432.8,1128.7 L436.0,1128.4 L439.3,1128.2 L442.5,1127.9 L445.7,1127.6 L449.0,1127.3 L452.2,1127.0 L455.4,1126.8 L458.6,1126.5 L461.9,1126.2 L465.1,1125.9 L468.3,1125.5 L471.6,1125.2 L474.8,1124.9 L478.0,1124.6 L481.3,1124.3 L484.5,1123.9 L487.7,1123.6 L491.0,1123.2" fill="none" stroke="#2222cc" stroke-width="4.7" stroke-linecap="round" stroke-dasharray="21.4 27.6" stroke-dashoffset="1.2"/>
<path d="M491.0,1123.2 L494.2,1122.9 L497.4,1122.5 L500.7,1122.2 L503.9,1121.8 L507.1,1121.4 L510.4,1121.0 L513.6,1120.6 L516.8,1120.2 L520.0,1119.8 L523.3,1119.4 L526.5,1119.0 L529.7,1118.6 L533.0,1118.2 L536.2,1117.7 L539.4,1117.3 L542.7,1116.8 L545.9,1116.4 L549.1,1115.9 L552.4,1115.4 L555.6,1114.9 L558.8,1114.5 L562.1,1114.0 L565.3,1113.5 L568.5,1113.0 L571.8,1112.4 L575.0,1111.9 L578.2,1111.4 L581.4,1110.8 L584.7,1110.3 L587.9,1109.7 L591.1,1109.2 L594.4,1108.6 L597.6,1108.0 L600.8,1107.4 L604.1,1106.8 L607.3,1106.2 L610.5,1105.6 L613.8,1105.0 L617.0,1104.3" fill="none" stroke="#2222cc" stroke-width="4.7" stroke-linecap="round" stroke-dasharray="21.4 27.6" stroke-dashoffset="1.2"/>
<path d="M617.0,1104.3 L620.2,1103.7 L623.5,1103.0 L626.7,1102.4 L629.9,1101.7 L633.1,1101.0 L636.4,1100.4 L639.6,1099.7 L642.8,1099.0 L646.1,1098.3 L649.3,1097.5 L652.5,1096.8 L655.8,1096.1 L659.0,1095.3 L662.2,1094.6 L665.5,1093.8 L668.7,1093.0 L671.9,1092.2 L675.2,1091.4 L678.4,1090.6 L681.6,1089.8 L684.9,1089.0 L688.1,1088.2 L691.3,1087.3 L694.5,1086.5 L697.8,1085.6 L701.0,1084.7 L704.2,1083.8 L707.5,1083.0 L710.7,1082.1 L713.9,1081.1 L717.2,1080.2 L720.4,1079.3 L723.6,1078.4 L726.9,1077.4 L730.1,1076.4 L733.3,1075.5 L736.6,1074.5 L739.8,1073.5 L743.0,1072.5" fill="none" stroke="#2222cc" stroke-width="4.7" stroke-linecap="round" stroke-dasharray="21.4 27.6" stroke-dashoffset="1.2"/>
<path d="M743.0,1072.5 L746.3,1071.5 L749.5,1070.5 L752.7,1069.5 L755.9,1068.4 L759.2,1067.4 L762.4,1066.3 L765.6,1065.2 L768.9,1064.2 L772.1,1063.1 L775.3,1062.0 L778.6,1060.9 L781.8,1059.7 L785.0,1058.6 L788.2,1057.5 L791.5,1056.3 L794.7,1055.2 L797.9,1054.0 L801.2,1052.8 L804.4,1051.6 L807.6,1050.4 L810.9,1049.2 L814.1,1048.0 L817.3,1046.8 L820.5,1045.5 L823.8,1044.3 L827.0,1043.0 L830.2,1041.7 L833.5,1040.4 L836.7,1039.2 L839.9,1037.9 L843.2,1036.5 L846.4,1035.2 L849.6,1033.9 L852.8,1032.5 L856.1,1031.2 L859.3,1029.8 L862.5,1028.5 L865.8,1027.1 L869.0,1025.7" fill="none" stroke="#2222cc" stroke-width="4.7" stroke-linecap="round" stroke-dasharray="21.4 27.6" stroke-dashoffset="1.2"/>
<path d="M238.9,1142.5 L242.1,1142.1 L245.4,1141.8 L248.6,1141.5 L251.8,1141.1 L255.1,1140.8 L258.3,1140.5 L261.5,1140.2 L264.8,1139.9 L268.0,1139.6 L271.2,1139.3 L274.4,1139.1 L277.7,1138.8 L280.9,1138.5 L284.1,1138.3 L287.4,1138.0 L290.6,1137.8 L293.8,1137.5 L297.1,1137.3 L300.3,1137.0 L303.5,1136.8 L306.8,1136.6 L310.0,1136.3 L313.2,1136.1 L316.5,1135.9 L319.7,1135.7 L322.9,1135.5 L326.2,1135.3 L329.4,1135.0 L332.6,1134.8 L335.8,1134.6 L339.1,1134.4 L342.3,1134.2 L345.5,1134.0 L348.8,1133.9 L352.0,1133.7 L355.2,1133.5 L358.5,1133.3 L361.7,1133.1 L364.9,1132.9" fill="none" stroke="#938f2c" stroke-width="4.7" stroke-linecap="round" stroke-dasharray="21.4 27.6" stroke-dashoffset="1.2"/>
<path d="M364.9,1132.9 L368.2,1132.7 L371.4,1132.5 L374.6,1132.4 L377.9,1132.2 L381.1,1132.0 L384.3,1131.8 L387.6,1131.6 L390.8,1131.5 L394.0,1131.3 L397.2,1131.1 L400.5,1130.9 L403.7,1130.7 L406.9,1130.5 L410.2,1130.4 L413.4,1130.2 L416.6,1130.0 L419.9,1129.8 L423.1,1129.6 L426.3,1129.4 L429.6,1129.2 L432.8,1129.0 L436.0,1128.8 L439.3,1128.6 L442.5,1128.4 L445.7,1128.2 L449.0,1128.0 L452.2,1127.8 L455.4,1127.6 L458.6,1127.4 L461.9,1127.2 L465.1,1127.0 L468.3,1126.8 L471.6,1126.5 L474.8,1126.3 L478.0,1126.1 L481.3,1125.8 L484.5,1125.6 L487.7,1125.4 L491.0,1125.1" fill="none" stroke="#938f2c" stroke-width="4.7" stroke-linecap="round" stroke-dasharray="21.4 27.6" stroke-dashoffset="1.2"/>
<path d="M491.0,1125.1 L494.2,1124.9 L497.4,1124.6 L500.7,1124.3 L503.9,1124.1 L507.1,1123.8 L510.4,1123.5 L513.6,1123.3 L516.8,1123.0 L520.0,1122.7 L523.3,1122.4 L526.5,1122.1 L529.7,1121.8 L533.0,1121.5 L536.2,1121.2 L539.4,1120.9 L542.7,1120.5 L545.9,1120.2 L549.1,1119.9 L552.4,1119.5 L555.6,1119.2 L558.8,1118.8 L562.1,1118.5 L565.3,1118.1 L568.5,1117.7 L571.8,1117.3 L575.0,1116.9 L578.2,1116.6 L581.4,1116.2 L584.7,1115.7 L587.9,1115.3 L591.1,1114.9 L594.4,1114.5 L597.6,1114.0 L600.8,1113.6 L604.1,1113.1 L607.3,1112.7 L610.5,1112.2 L613.8,1111.7 L617.0,1111.3" fill="none" stroke="#938f2c" stroke-width="4.7" stroke-linecap="round" stroke-dasharray="21.4 27.6" stroke-dashoffset="1.2"/>
<path d="M617.0,1111.3 L620.2,1110.8 L623.5,1110.3 L626.7,1109.8 L629.9,1109.3 L633.1,1108.7 L636.4,1108.2 L639.6,1107.7 L642.8,1107.1 L646.1,1106.6 L649.3,1106.0 L652.5,1105.4 L655.8,1104.9 L659.0,1104.3 L662.2,1103.7 L665.5,1103.1 L668.7,1102.5 L671.9,1101.8 L675.2,1101.2 L678.4,1100.6 L681.6,1099.9 L684.9,1099.2 L688.1,1098.6 L691.3,1097.9 L694.5,1097.2 L697.8,1096.5 L701.0,1095.8 L704.2,1095.1 L707.5,1094.4 L710.7,1093.6 L713.9,1092.9 L717.2,1092.1 L720.4,1091.4 L723.6,1090.6 L726.9,1089.8 L730.1,1089.0 L733.3,1088.2 L736.6,1087.4 L739.8,1086.6 L743.0,1085.7" fill="none" stroke="#938f2c" stroke-width="4.7" stroke-linecap="round" stroke-dasharray="21.4 27.6" stroke-dashoffset="1.2"/>
<path d="M743.0,1085.7 L746.3,1084.9 L749.5,1084.0 L752.7,1083.2 L755.9,1082.3 L759.2,1081.4 L762.4,1080.5 L765.6,1079.6 L768.9,1078.7 L772.1,1077.8 L775.3,1076.8 L778.6,1075.9 L781.8,1074.9 L785.0,1074.0 L788.2,1073.0 L791.5,1072.0 L794.7,1071.0 L797.9,1070.0 L801.2,1069.0 L804.4,1067.9 L807.6,1066.9 L810.9,1065.8 L814.1,1064.8 L817.3,1063.7 L820.5,1062.6 L823.8,1061.5 L827.0,1060.4 L830.2,1059.3 L833.5,1058.1 L836.7,1057.0 L839.9,1055.9 L843.2,1054.7 L846.4,1053.5 L849.6,1052.3 L852.8,1051.1 L856.1,1049.9 L859.3,1048.7 L862.5,1047.5 L865.8,1046.2 L869.0,1045.0" fill="none" stroke="#938f2c" stroke-width="4.7" stroke-linecap="round" stroke-dasharray="21.4 27.6" stroke-dashoffset="1.2"/>
<polygon points="238.9,1159.0 254.4,1132.0 223.4,1132.0" fill="#2616ee" stroke="#2a2ab8" stroke-width="1"/>
<polygon points="364.9,1145.5 380.4,1118.5 349.4,1118.5" fill="#2616ee" stroke="#2a2ab8" stroke-width="1"/>
<polygon points="491.0,1138.8 506.5,1111.8 475.5,1111.8" fill="#2616ee" stroke="#2a2ab8" stroke-width="1"/>
<polygon points="617.0,1117.5 632.5,1090.5 601.5,1090.5" fill="#2616ee" stroke="#2a2ab8" stroke-width="1"/>
<polygon points="743.0,1080.5 758.5,1053.5 727.5,1053.5" fill="#2616ee" stroke="#2a2ab8" stroke-width="1"/>
<polygon points="869.1,1030.7 884.6,1003.7 853.6,1003.7" fill="#2616ee" stroke="#2a2ab8" stroke-width="1"/>
<polygon points="238.9,1127.2 253.0,1137.4 247.6,1154.0 230.2,1154.0 224.8,1137.4" fill="#8a8012"  stroke="#8a8012" stroke-width="0.7" stroke-linejoin="round"/>
<polygon points="364.9,1119.0 379.0,1129.2 373.6,1145.8 356.2,1145.8 350.9,1129.2" fill="#8a8012"  stroke="#8a8012" stroke-width="0.7" stroke-linejoin="round"/>
<polygon points="491.0,1106.8 505.0,1117.0 499.7,1133.6 482.3,1133.6 476.9,1117.0" fill="#8a8012"  stroke="#8a8012" stroke-width="0.7" stroke-linejoin="round"/>
<polygon points="617.0,1097.2 631.1,1107.4 625.7,1124.0 608.3,1124.0 602.9,1107.4" fill="#8a8012"  stroke="#8a8012" stroke-width="0.7" stroke-linejoin="round"/>
<polygon points="743.0,1060.2 757.1,1070.4 751.7,1087.0 734.3,1087.0 728.9,1070.4" fill="#8a8012"  stroke="#8a8012" stroke-width="0.7" stroke-linejoin="round"/>
<polygon points="869.1,1018.5 883.1,1028.7 877.8,1045.3 860.4,1045.3 855.0,1028.7" fill="#8a8012"  stroke="#8a8012" stroke-width="0.7" stroke-linejoin="round"/>
<path d="M238.9,1142.7 L242.1,1142.2 L245.4,1141.7 L248.6,1141.2 L251.8,1140.7 L255.1,1140.2 L258.3,1139.7 L261.5,1139.2 L264.8,1138.7 L268.0,1138.2 L271.2,1137.7 L274.4,1137.2 L277.7,1136.7 L280.9,1136.2 L284.1,1135.7 L287.4,1135.2 L290.6,1134.7 L293.8,1134.2 L297.1,1133.7 L300.3,1133.2 L303.5,1132.7 L306.8,1132.2 L310.0,1131.8 L313.2,1131.3 L316.5,1130.8 L319.7,1130.3 L322.9,1129.8 L326.2,1129.3 L329.4,1128.8 L332.6,1128.2 L335.8,1127.7 L339.1,1127.2 L342.3,1126.7 L345.5,1126.2 L348.8,1125.7 L352.0,1125.2 L355.2,1124.7 L358.5,1124.1 L361.7,1123.6 L364.9,1123.1" fill="none" stroke="#3cdc3c" stroke-width="4.7" stroke-linecap="round" stroke-dasharray="21.4 27.6" stroke-dashoffset="1.2"/>
<path d="M364.9,1123.1 L368.2,1122.6 L371.4,1122.0 L374.6,1121.5 L377.9,1120.9 L381.1,1120.4 L384.3,1119.9 L387.6,1119.3 L390.8,1118.7 L394.0,1118.2 L397.2,1117.6 L400.5,1117.1 L403.7,1116.5 L406.9,1115.9 L410.2,1115.3 L413.4,1114.7 L416.6,1114.1 L419.9,1113.5 L423.1,1112.9 L426.3,1112.3 L429.6,1111.7 L432.8,1111.1 L436.0,1110.4 L439.3,1109.8 L442.5,1109.2 L445.7,1108.5 L449.0,1107.9 L452.2,1107.2 L455.4,1106.5 L458.6,1105.8 L461.9,1105.2 L465.1,1104.5 L468.3,1103.8 L471.6,1103.1 L474.8,1102.3 L478.0,1101.6 L481.3,1100.9 L484.5,1100.1 L487.7,1099.4 L491.0,1098.6" fill="none" stroke="#3cdc3c" stroke-width="4.7" stroke-linecap="round" stroke-dasharray="21.4 27.6" stroke-dashoffset="1.2"/>
<path d="M491.0,1098.6 L494.2,1097.8 L497.4,1097.1 L500.7,1096.3 L503.9,1095.5 L507.1,1094.7 L510.4,1093.9 L513.6,1093.0 L516.8,1092.2 L520.0,1091.3 L523.3,1090.5 L526.5,1089.6 L529.7,1088.7 L533.0,1087.8 L536.2,1086.9 L539.4,1086.0 L542.7,1085.1 L545.9,1084.2 L549.1,1083.2 L552.4,1082.3 L555.6,1081.3 L558.8,1080.3 L562.1,1079.3 L565.3,1078.3 L568.5,1077.3 L571.8,1076.2 L575.0,1075.2 L578.2,1074.1 L581.4,1073.0 L584.7,1071.9 L587.9,1070.8 L591.1,1069.7 L594.4,1068.6 L597.6,1067.4 L600.8,1066.2 L604.1,1065.1 L607.3,1063.9 L610.5,1062.7 L613.8,1061.4 L617.0,1060.2" fill="none" stroke="#3cdc3c" stroke-width="4.7" stroke-linecap="round" stroke-dasharray="21.4 27.6" stroke-dashoffset="1.2"/>
<path d="M617.0,1060.2 L620.2,1058.9 L623.5,1057.7 L626.7,1056.4 L629.9,1055.1 L633.1,1053.7 L636.4,1052.4 L639.6,1051.1 L642.8,1049.7 L646.1,1048.3 L649.3,1046.9 L652.5,1045.5 L655.8,1044.0 L659.0,1042.5 L662.2,1041.1 L665.5,1039.6 L668.7,1038.1 L671.9,1036.5 L675.2,1035.0 L678.4,1033.4 L681.6,1031.8 L684.9,1030.2 L688.1,1028.6 L691.3,1026.9 L694.5,1025.2 L697.8,1023.5 L701.0,1021.8 L704.2,1020.1 L707.5,1018.3 L710.7,1016.6 L713.9,1014.8 L717.2,1012.9 L720.4,1011.1 L723.6,1009.2 L726.9,1007.4 L730.1,1005.4 L733.3,1003.5 L736.6,1001.6 L739.8,999.6 L743.0,997.6" fill="none" stroke="#3cdc3c" stroke-width="4.7" stroke-linecap="round" stroke-dasharray="21.4 27.6" stroke-dashoffset="1.2"/>
<path d="M743.0,997.6 L746.3,995.6 L749.5,993.5 L752.8,991.4 L756.0,989.3 L759.2,987.2 L762.5,985.0 L765.7,982.9 L769.0,980.7 L772.2,978.4 L775.5,976.2 L778.7,973.9 L782.0,971.6 L785.2,969.3 L788.5,966.9 L791.7,964.6 L795.0,962.1 L798.2,959.7 L801.4,957.3 L804.7,954.8 L807.9,952.2 L811.2,949.7 L814.4,947.1 L817.7,944.5 L820.9,941.9 L824.2,939.2 L827.4,936.6 L830.7,933.9 L833.9,931.1 L837.1,928.3 L840.4,925.5 L843.6,922.7 L846.9,919.8 L850.1,916.9 L853.4,914.0 L856.6,911.1 L859.9,908.1 L863.1,905.1 L866.4,902.0 L869.6,899.0" fill="none" stroke="#3cdc3c" stroke-width="4.7" stroke-linecap="round" stroke-dasharray="21.4 27.6" stroke-dashoffset="1.2"/>
<polygon points="238.9,1124.1 254.4,1151.1 223.4,1151.1" fill="#1fee1f" stroke="#44c044" stroke-width="1"/>
<polygon points="364.9,1105.5 380.4,1132.5 349.4,1132.5" fill="#1fee1f" stroke="#44c044" stroke-width="1"/>
<polygon points="491.0,1076.5 506.5,1103.5 475.5,1103.5" fill="#1fee1f" stroke="#44c044" stroke-width="1"/>
<polygon points="617.0,1034.2 632.5,1061.2 601.5,1061.2" fill="#1fee1f" stroke="#44c044" stroke-width="1"/>
<polygon points="743.0,967.0 758.5,994.0 727.5,994.0" fill="#1fee1f" stroke="#44c044" stroke-width="1"/>
<polygon points="869.1,861.0 884.6,888.0 853.6,888.0" fill="#1fee1f" stroke="#44c044" stroke-width="1"/>
<path d="M238.9,1141.7 L242.1,1141.2 L245.4,1140.6 L248.6,1140.1 L251.8,1139.5 L255.1,1139.0 L258.3,1138.5 L261.5,1137.9 L264.8,1137.4 L268.0,1136.8 L271.2,1136.3 L274.4,1135.8 L277.7,1135.2 L280.9,1134.7 L284.1,1134.2 L287.4,1133.6 L290.6,1133.1 L293.8,1132.6 L297.1,1132.0 L300.3,1131.5 L303.5,1131.0 L306.8,1130.4 L310.0,1129.9 L313.2,1129.3 L316.5,1128.8 L319.7,1128.3 L322.9,1127.7 L326.2,1127.2 L329.4,1126.6 L332.6,1126.1 L335.8,1125.5 L339.1,1125.0 L342.3,1124.4 L345.5,1123.8 L348.8,1123.3 L352.0,1122.7 L355.2,1122.1 L358.5,1121.6 L361.7,1121.0 L364.9,1120.4" fill="none" stroke="#44dcdc" stroke-width="4.7" stroke-linecap="round" stroke-dasharray="21.4 27.6" stroke-dashoffset="1.2"/>
<path d="M364.9,1120.4 L368.2,1119.8 L371.4,1119.2 L374.6,1118.6 L377.9,1118.0 L381.1,1117.4 L384.3,1116.8 L387.6,1116.2 L390.8,1115.6 L394.0,1115.0 L397.2,1114.3 L400.5,1113.7 L403.7,1113.1 L406.9,1112.4 L410.2,1111.8 L413.4,1111.1 L416.6,1110.5 L419.9,1109.8 L423.1,1109.1 L426.3,1108.4 L429.6,1107.7 L432.8,1107.1 L436.0,1106.4 L439.3,1105.6 L442.5,1104.9 L445.7,1104.2 L449.0,1103.5 L452.2,1102.7 L455.4,1102.0 L458.6,1101.2 L461.9,1100.5 L465.1,1099.7 L468.3,1098.9 L471.6,1098.1 L474.8,1097.3 L478.0,1096.5 L481.3,1095.7 L484.5,1094.9 L487.7,1094.1 L491.0,1093.2" fill="none" stroke="#44dcdc" stroke-width="4.7" stroke-linecap="round" stroke-dasharray="21.4 27.6" stroke-dashoffset="1.2"/>
<path d="M491.0,1093.2 L494.2,1092.4 L497.4,1091.5 L500.7,1090.6 L503.9,1089.7 L507.1,1088.8 L510.4,1087.9 L513.6,1087.0 L516.8,1086.1 L520.0,1085.2 L523.3,1084.2 L526.5,1083.2 L529.7,1082.3 L533.0,1081.3 L536.2,1080.3 L539.4,1079.3 L542.7,1078.3 L545.9,1077.2 L549.1,1076.2 L552.4,1075.1 L555.6,1074.1 L558.8,1073.0 L562.1,1071.9 L565.3,1070.8 L568.5,1069.7 L571.8,1068.5 L575.0,1067.4 L578.2,1066.2 L581.4,1065.0 L584.7,1063.8 L587.9,1062.6 L591.1,1061.4 L594.4,1060.2 L597.6,1058.9 L600.8,1057.6 L604.1,1056.4 L607.3,1055.1 L610.5,1053.8 L613.8,1052.4 L617.0,1051.1" fill="none" stroke="#44dcdc" stroke-width="4.7" stroke-linecap="round" stroke-dasharray="21.4 27.6" stroke-dashoffset="1.2"/>
<path d="M617.0,1051.1 L620.2,1049.7 L623.5,1048.3 L626.7,1047.0 L629.9,1045.5 L633.1,1044.1 L636.4,1042.7 L639.6,1041.2 L642.8,1039.7 L646.1,1038.2 L649.3,1036.7 L652.5,1035.2 L655.8,1033.7 L659.0,1032.1 L662.2,1030.5 L665.5,1028.9 L668.7,1027.3 L671.9,1025.6 L675.2,1024.0 L678.4,1022.3 L681.6,1020.6 L684.9,1018.9 L688.1,1017.2 L691.3,1015.4 L694.5,1013.6 L697.8,1011.8 L701.0,1010.0 L704.2,1008.2 L707.5,1006.3 L710.7,1004.5 L713.9,1002.6 L717.2,1000.6 L720.4,998.7 L723.6,996.7 L726.9,994.8 L730.1,992.8 L733.3,990.7 L736.6,988.7 L739.8,986.6 L743.0,984.5" fill="none" stroke="#44dcdc" stroke-width="4.7" stroke-linecap="round" stroke-dasharray="21.4 27.6" stroke-dashoffset="1.2"/>
<path d="M743.0,984.5 L746.3,982.4 L749.5,980.3 L752.7,978.1 L755.9,975.9 L759.2,973.7 L762.4,971.5 L765.6,969.2 L768.9,967.0 L772.1,964.7 L775.3,962.3 L778.6,960.0 L781.8,957.6 L785.0,955.2 L788.2,952.8 L791.5,950.4 L794.7,947.9 L797.9,945.4 L801.2,942.9 L804.4,940.3 L807.6,937.7 L810.9,935.1 L814.1,932.5 L817.3,929.9 L820.5,927.2 L823.8,924.5 L827.0,921.8 L830.2,919.0 L833.5,916.2 L836.7,913.4 L839.9,910.6 L843.2,907.7 L846.4,904.8 L849.6,901.9 L852.8,898.9 L856.1,895.9 L859.3,892.9 L862.5,889.9 L865.8,886.8 L869.0,883.7" fill="none" stroke="#44dcdc" stroke-width="4.7" stroke-linecap="round" stroke-dasharray="21.4 27.6" stroke-dashoffset="1.2"/>
<polygon points="364.9,1103.3 381.1,1119.3 364.9,1135.3 348.7,1119.3" fill="#1eeeee"  stroke="#1eeeee" stroke-width="0.7" stroke-linejoin="round"/>
<polygon points="491.0,1070.0 507.2,1086.0 491.0,1102.0 474.8,1086.0" fill="#1eeeee"  stroke="#1eeeee" stroke-width="0.7" stroke-linejoin="round"/>
<polygon points="617.0,1029.0 633.2,1045.0 617.0,1061.0 600.8,1045.0" fill="#1eeeee"  stroke="#1eeeee" stroke-width="0.7" stroke-linejoin="round"/>
<polygon points="743.0,972.0 759.2,988.0 743.0,1004.0 726.8,988.0" fill="#1eeeee"  stroke="#1eeeee" stroke-width="0.7" stroke-linejoin="round"/>
<polygon points="869.1,881.0 885.3,897.0 869.1,913.0 852.9,897.0" fill="#1eeeee"  stroke="#1eeeee" stroke-width="0.7" stroke-linejoin="round"/>
<path d="M238.9,1140.5 L242.1,1140.0 L245.4,1139.5 L248.6,1139.0 L251.8,1138.4 L255.1,1137.9 L258.3,1137.4 L261.5,1136.9 L264.8,1136.3 L268.0,1135.8 L271.2,1135.3 L274.4,1134.8 L277.7,1134.2 L280.9,1133.7 L284.1,1133.2 L287.4,1132.6 L290.6,1132.1 L293.8,1131.6 L297.1,1131.0 L300.3,1130.5 L303.5,1129.9 L306.8,1129.4 L310.0,1128.8 L313.2,1128.2 L316.5,1127.7 L319.7,1127.1 L322.9,1126.5 L326.2,1126.0 L329.4,1125.4 L332.6,1124.8 L335.8,1124.2 L339.1,1123.6 L342.3,1123.0 L345.5,1122.3 L348.8,1121.7 L352.0,1121.1 L355.2,1120.5 L358.5,1119.8 L361.7,1119.2 L364.9,1118.5" fill="none" stroke="#e23ee2" stroke-width="4.7" stroke-linecap="round" stroke-dasharray="21.4 27.6" stroke-dashoffset="1.2"/>
<path d="M364.9,1118.5 L368.2,1117.8 L371.4,1117.1 L374.6,1116.5 L377.9,1115.8 L381.1,1115.1 L384.3,1114.3 L387.6,1113.6 L390.8,1112.9 L394.0,1112.1 L397.2,1111.4 L400.5,1110.6 L403.7,1109.9 L406.9,1109.1 L410.2,1108.3 L413.4,1107.5 L416.6,1106.7 L419.9,1105.8 L423.1,1105.0 L426.3,1104.1 L429.6,1103.3 L432.8,1102.4 L436.0,1101.5 L439.3,1100.6 L442.5,1099.7 L445.7,1098.8 L449.0,1097.8 L452.2,1096.9 L455.4,1095.9 L458.6,1094.9 L461.9,1093.9 L465.1,1092.9 L468.3,1091.9 L471.6,1090.8 L474.8,1089.8 L478.0,1088.7 L481.3,1087.6 L484.5,1086.6 L487.7,1085.4 L491.0,1084.3" fill="none" stroke="#e23ee2" stroke-width="4.7" stroke-linecap="round" stroke-dasharray="21.4 27.6" stroke-dashoffset="1.2"/>
<path d="M491.0,1084.3 L494.2,1083.2 L497.4,1082.0 L500.7,1080.8 L503.9,1079.7 L507.1,1078.4 L510.4,1077.2 L513.6,1076.0 L516.8,1074.7 L520.0,1073.5 L523.3,1072.2 L526.5,1070.9 L529.7,1069.6 L533.0,1068.2 L536.2,1066.9 L539.4,1065.5 L542.7,1064.1 L545.9,1062.7 L549.1,1061.3 L552.4,1059.8 L555.6,1058.4 L558.8,1056.9 L562.1,1055.4 L565.3,1053.9 L568.5,1052.3 L571.8,1050.8 L575.0,1049.2 L578.2,1047.6 L581.4,1046.0 L584.7,1044.4 L587.9,1042.7 L591.1,1041.1 L594.4,1039.4 L597.6,1037.7 L600.8,1036.0 L604.1,1034.2 L607.3,1032.4 L610.5,1030.7 L613.8,1028.9 L617.0,1027.0" fill="none" stroke="#e23ee2" stroke-width="4.7" stroke-linecap="round" stroke-dasharray="21.4 27.6" stroke-dashoffset="1.2"/>
<path d="M617.0,1027.0 L620.2,1025.2 L623.5,1023.3 L626.7,1021.5 L629.9,1019.5 L633.1,1017.6 L636.4,1015.7 L639.6,1013.7 L642.8,1011.7 L646.1,1009.7 L649.3,1007.7 L652.5,1005.7 L655.8,1003.6 L659.0,1001.5 L662.2,999.4 L665.5,997.3 L668.7,995.1 L671.9,992.9 L675.2,990.7 L678.4,988.5 L681.6,986.3 L684.9,984.0 L688.1,981.8 L691.3,979.5 L694.5,977.1 L697.8,974.8 L701.0,972.4 L704.2,970.0 L707.5,967.6 L710.7,965.2 L713.9,962.8 L717.2,960.3 L720.4,957.8 L723.6,955.3 L726.9,952.7 L730.1,950.2 L733.3,947.6 L736.6,945.0 L739.8,942.4 L743.0,939.7" fill="none" stroke="#e23ee2" stroke-width="4.7" stroke-linecap="round" stroke-dasharray="21.4 27.6" stroke-dashoffset="1.2"/>
<path d="M743.0,939.7 L746.2,937.1 L749.3,934.5 L752.5,931.9 L755.6,929.2 L758.8,926.5 L761.9,923.8 L765.1,921.1 L768.2,918.3 L771.4,915.5 L774.6,912.8 L777.7,909.9 L780.9,907.1 L784.0,904.3 L787.2,901.4 L790.3,898.5 L793.5,895.6 L796.6,892.6 L799.8,889.7 L802.9,886.7 L806.1,883.7 L809.2,880.7 L812.4,877.6 L815.5,874.6 L818.7,871.5 L821.9,868.4 L825.0,865.2 L828.2,862.1 L831.3,858.9 L834.5,855.7 L837.6,852.5 L840.8,849.3 L843.9,846.1 L847.1,842.8 L850.2,839.5 L853.4,836.2 L856.5,832.9 L859.7,829.5 L862.8,826.1 L866.0,822.8" fill="none" stroke="#e23ee2" stroke-width="4.7" stroke-linecap="round" stroke-dasharray="21.4 27.6" stroke-dashoffset="1.2"/>
<polygon points="364.9,1107.5 369.0,1117.4 379.7,1118.2 371.5,1125.1 374.0,1135.5 364.9,1129.9 355.8,1135.5 358.4,1125.1 350.2,1118.2 360.9,1117.4" fill="#f41cf4" stroke="#cc22cc" stroke-width="0.8"/>
<polygon points="491.0,1063.7 495.0,1073.6 505.7,1074.4 497.5,1081.3 500.1,1091.7 491.0,1086.1 481.9,1091.7 484.4,1081.3 476.2,1074.4 486.9,1073.6" fill="#f41cf4" stroke="#cc22cc" stroke-width="0.8"/>
<polygon points="617.0,1008.5 621.0,1018.4 631.7,1019.2 623.6,1026.1 626.1,1036.5 617.0,1030.9 607.9,1036.5 610.4,1026.1 602.3,1019.2 612.9,1018.4" fill="#f41cf4" stroke="#cc22cc" stroke-width="0.8"/>
<polygon points="743.0,937.1 747.1,947.0 757.8,947.8 749.6,954.7 752.1,965.1 743.0,959.5 733.9,965.1 736.5,954.7 728.3,947.8 739.0,947.0" fill="#f41cf4" stroke="#cc22cc" stroke-width="0.8"/>
<polygon points="869.1,773.5 873.1,783.4 883.8,784.2 875.6,791.1 878.2,801.5 869.1,795.9 859.9,801.5 862.5,791.1 854.3,784.2 865.0,783.4" fill="#f41cf4" stroke="#cc22cc" stroke-width="0.8"/>
<path d="M238.9,1140.3 L242.1,1139.9 L245.4,1139.5 L248.6,1139.1 L251.8,1138.6 L255.1,1138.2 L258.3,1137.8 L261.5,1137.3 L264.8,1136.9 L268.0,1136.4 L271.2,1135.9 L274.4,1135.5 L277.7,1135.0 L280.9,1134.5 L284.1,1134.0 L287.4,1133.5 L290.6,1133.0 L293.8,1132.5 L297.1,1131.9 L300.3,1131.4 L303.5,1130.9 L306.8,1130.3 L310.0,1129.8 L313.2,1129.2 L316.5,1128.7 L319.7,1128.1 L322.9,1127.5 L326.2,1126.9 L329.4,1126.3 L332.6,1125.7 L335.8,1125.1 L339.1,1124.5 L342.3,1123.9 L345.5,1123.2 L348.8,1122.6 L352.0,1121.9 L355.2,1121.3 L358.5,1120.6 L361.7,1119.9 L364.9,1119.2" fill="none" stroke="#8a26d2" stroke-width="4.7" stroke-linecap="round" stroke-dasharray="21.4 27.6" stroke-dashoffset="1.2"/>
<path d="M364.9,1119.2 L368.2,1118.6 L371.4,1117.8 L374.6,1117.1 L377.9,1116.4 L381.1,1115.7 L384.3,1115.0 L387.6,1114.2 L390.8,1113.5 L394.0,1112.7 L397.2,1111.9 L400.5,1111.1 L403.7,1110.4 L406.9,1109.6 L410.2,1108.7 L413.4,1107.9 L416.6,1107.1 L419.9,1106.3 L423.1,1105.4 L426.3,1104.6 L429.6,1103.7 L432.8,1102.8 L436.0,1101.9 L439.3,1101.0 L442.5,1100.1 L445.7,1099.2 L449.0,1098.3 L452.2,1097.3 L455.4,1096.4 L458.6,1095.4 L461.9,1094.4 L465.1,1093.4 L468.3,1092.5 L471.6,1091.4 L474.8,1090.4 L478.0,1089.4 L481.3,1088.4 L484.5,1087.3 L487.7,1086.2 L491.0,1085.2" fill="none" stroke="#8a26d2" stroke-width="4.7" stroke-linecap="round" stroke-dasharray="21.4 27.6" stroke-dashoffset="1.2"/>
<path d="M491.0,1085.2 L494.2,1084.1 L497.4,1083.0 L500.7,1081.9 L503.9,1080.7 L507.1,1079.6 L510.4,1078.5 L513.6,1077.3 L516.8,1076.1 L520.0,1074.9 L523.3,1073.7 L526.5,1072.5 L529.7,1071.3 L533.0,1070.1 L536.2,1068.8 L539.4,1067.5 L542.7,1066.3 L545.9,1065.0 L549.1,1063.7 L552.4,1062.3 L555.6,1061.0 L558.8,1059.7 L562.1,1058.3 L565.3,1056.9 L568.5,1055.5 L571.8,1054.1 L575.0,1052.7 L578.2,1051.3 L581.4,1049.8 L584.7,1048.3 L587.9,1046.8 L591.1,1045.4 L594.4,1043.8 L597.6,1042.3 L600.8,1040.8 L604.1,1039.2 L607.3,1037.6 L610.5,1036.0 L613.8,1034.4 L617.0,1032.8" fill="none" stroke="#8a26d2" stroke-width="4.7" stroke-linecap="round" stroke-dasharray="21.4 27.6" stroke-dashoffset="1.2"/>
<path d="M617.0,1032.8 L620.2,1031.1 L623.5,1029.5 L626.7,1027.8 L629.9,1026.1 L633.1,1024.4 L636.4,1022.7 L639.6,1020.9 L642.8,1019.2 L646.1,1017.4 L649.3,1015.6 L652.5,1013.8 L655.8,1011.9 L659.0,1010.1 L662.2,1008.2 L665.5,1006.3 L668.7,1004.4 L671.9,1002.5 L675.2,1000.5 L678.4,998.6 L681.6,996.6 L684.9,994.6 L688.1,992.5 L691.3,990.5 L694.5,988.4 L697.8,986.3 L701.0,984.2 L704.2,982.1 L707.5,980.0 L710.7,977.8 L713.9,975.6 L717.2,973.4 L720.4,971.2 L723.6,968.9 L726.9,966.6 L730.1,964.3 L733.3,962.0 L736.6,959.7 L739.8,957.3 L743.0,954.9" fill="none" stroke="#8a26d2" stroke-width="4.7" stroke-linecap="round" stroke-dasharray="21.4 27.6" stroke-dashoffset="1.2"/>
<path d="M743.0,954.9 L746.2,952.5 L749.5,950.1 L752.7,947.6 L755.9,945.2 L759.1,942.7 L762.3,940.2 L765.5,937.6 L768.8,935.1 L772.0,932.5 L775.2,929.9 L778.4,927.3 L781.6,924.6 L784.8,921.9 L788.1,919.2 L791.3,916.5 L794.5,913.7 L797.7,910.9 L800.9,908.1 L804.2,905.3 L807.4,902.4 L810.6,899.6 L813.8,896.6 L817.0,893.7 L820.2,890.7 L823.5,887.8 L826.7,884.7 L829.9,881.7 L833.1,878.6 L836.3,875.5 L839.5,872.4 L842.8,869.2 L846.0,866.1 L849.2,862.9 L852.4,859.6 L855.6,856.3 L858.8,853.0 L862.1,849.7 L865.3,846.4 L868.5,843.0" fill="none" stroke="#8a26d2" stroke-width="4.7" stroke-linecap="round" stroke-dasharray="21.4 27.6" stroke-dashoffset="1.2"/>
<polygon points="364.9,1109.7 377.1,1116.8 377.1,1130.8 364.9,1137.9 352.7,1130.8 352.7,1116.8" fill="#7212e2" stroke="#5c14b8" stroke-width="1"/>
<polygon points="491.0,1064.9 503.2,1072.0 503.2,1086.0 491.0,1093.1 478.8,1086.0 478.8,1072.0" fill="#7212e2" stroke="#5c14b8" stroke-width="1"/>
<polygon points="617.0,996.7 629.2,1003.8 629.2,1017.8 617.0,1024.9 604.8,1017.8 604.8,1003.8" fill="#7212e2" stroke="#5c14b8" stroke-width="1"/>
<polygon points="743.0,924.1 755.2,931.2 755.2,945.2 743.0,952.3 730.8,945.2 730.8,931.2" fill="#7212e2" stroke="#5c14b8" stroke-width="1"/>
<polygon points="869.1,746.4 881.3,753.5 881.3,767.5 869.1,774.6 856.8,767.5 856.8,753.5" fill="#7212e2" stroke="#5c14b8" stroke-width="1"/>
<rect x="226.9" y="1128.6" width="24" height="24" fill="#000000"/>
<rect x="352.9" y="1106.6" width="24" height="24" fill="#000000"/>
<rect x="479.0" y="1080.1" width="24" height="24" fill="#000000"/>
<rect x="605.0" y="1025.3" width="24" height="24" fill="#000000"/>
<rect x="731.0" y="945.5" width="24" height="24" fill="#000000"/>
<rect x="857.1" y="876.0" width="24" height="24" fill="#000000"/>
<path d="M238.9,1140.6 L242.1,1139.8 L245.4,1138.9 L248.6,1138.0 L251.8,1137.2 L255.1,1136.3 L258.3,1135.4 L261.5,1134.5 L264.8,1133.7 L268.0,1132.8 L271.2,1131.9 L274.4,1131.0 L277.7,1130.1 L280.9,1129.2 L284.1,1128.3 L287.4,1127.4 L290.6,1126.5 L293.8,1125.6 L297.1,1124.7 L300.3,1123.7 L303.5,1122.8 L306.8,1121.8 L310.0,1120.9 L313.2,1119.9 L316.5,1119.0 L319.7,1118.0 L322.9,1117.0 L326.2,1116.0 L329.4,1115.0 L332.6,1113.9 L335.8,1112.9 L339.1,1111.8 L342.3,1110.8 L345.5,1109.7 L348.8,1108.6 L352.0,1107.5 L355.2,1106.4 L358.5,1105.3 L361.7,1104.1 L364.9,1103.0" fill="none" stroke="#cc241c" stroke-width="4.7" stroke-linecap="round" stroke-dasharray="21.4 27.6" stroke-dashoffset="1.2"/>
<path d="M364.9,1103.0 L368.2,1101.8 L371.4,1100.6 L374.6,1099.4 L377.9,1098.2 L381.1,1096.9 L384.3,1095.7 L387.6,1094.4 L390.8,1093.1 L394.0,1091.8 L397.2,1090.5 L400.5,1089.1 L403.7,1087.7 L406.9,1086.4 L410.2,1084.9 L413.4,1083.5 L416.6,1082.1 L419.9,1080.6 L423.1,1079.1 L426.3,1077.6 L429.6,1076.1 L432.8,1074.5 L436.0,1072.9 L439.3,1071.3 L442.5,1069.7 L445.7,1068.0 L449.0,1066.4 L452.2,1064.7 L455.4,1063.0 L458.6,1061.2 L461.9,1059.4 L465.1,1057.6 L468.3,1055.8 L471.6,1054.0 L474.8,1052.1 L478.0,1050.2 L481.3,1048.3 L484.5,1046.3 L487.7,1044.3 L491.0,1042.3" fill="none" stroke="#cc241c" stroke-width="4.7" stroke-linecap="round" stroke-dasharray="21.4 27.6" stroke-dashoffset="1.2"/>
<path d="M491.0,1042.3 L494.2,1040.3 L497.4,1038.2 L500.7,1036.1 L503.9,1034.0 L507.1,1031.9 L510.4,1029.7 L513.6,1027.5 L516.8,1025.2 L520.0,1023.0 L523.3,1020.7 L526.5,1018.4 L529.7,1016.0 L533.0,1013.6 L536.2,1011.2 L539.4,1008.7 L542.7,1006.3 L545.9,1003.7 L549.1,1001.2 L552.4,998.6 L555.6,996.0 L558.8,993.4 L562.1,990.7 L565.3,988.0 L568.5,985.2 L571.8,982.5 L575.0,979.7 L578.2,976.8 L581.4,974.0 L584.7,971.0 L587.9,968.1 L591.1,965.1 L594.4,962.1 L597.6,959.1 L600.8,956.0 L604.1,952.9 L607.3,949.7 L610.5,946.5 L613.8,943.3 L617.0,940.0" fill="none" stroke="#cc241c" stroke-width="4.7" stroke-linecap="round" stroke-dasharray="21.4 27.6" stroke-dashoffset="1.2"/>
<path d="M617.0,940.0 L620.2,936.7 L623.5,933.4 L626.7,930.0 L629.9,926.6 L633.1,923.2 L636.4,919.7 L639.6,916.2 L642.8,912.6 L646.1,909.0 L649.3,905.4 L652.5,901.8 L655.8,898.1 L659.0,894.3 L662.2,890.5 L665.5,886.7 L668.7,882.9 L671.9,879.0 L675.2,875.0 L678.4,871.1 L681.6,867.1 L684.9,863.0 L688.1,858.9 L691.3,854.8 L694.5,850.6 L697.8,846.4 L701.0,842.2 L704.2,837.9 L707.5,833.6 L710.7,829.2 L713.9,824.8 L717.2,820.4 L720.4,815.9 L723.6,811.4 L726.9,806.8 L730.1,802.2 L733.3,797.6 L736.6,792.9 L739.8,788.2 L743.0,783.4" fill="none" stroke="#cc241c" stroke-width="4.7" stroke-linecap="round" stroke-dasharray="21.4 27.6" stroke-dashoffset="1.2"/>
<path d="M743.0,783.4 L746.2,778.7 L749.4,773.9 L752.6,769.1 L755.8,764.2 L759.0,759.3 L762.2,754.3 L765.4,749.4 L768.6,744.3 L771.8,739.3 L775.0,734.2 L778.2,729.0 L781.4,723.9 L784.5,718.6 L787.7,713.4 L790.9,708.1 L794.1,702.7 L797.3,697.3 L800.5,691.9 L803.7,686.5 L806.9,680.9 L810.1,675.4 L813.3,669.8 L816.5,664.2 L819.7,658.5 L822.9,652.8 L826.1,647.1 L829.3,641.3 L832.5,635.5 L835.7,629.6 L838.9,623.7 L842.0,617.8 L845.2,611.8 L848.4,605.8 L851.6,599.7 L854.8,593.6 L858.0,587.5 L861.2,581.3 L864.4,575.0 L867.6,568.8" fill="none" stroke="#cc241c" stroke-width="4.7" stroke-linecap="round" stroke-dasharray="21.4 27.6" stroke-dashoffset="1.2"/>
<circle cx="238.9" cy="1137.8" r="12.9" fill="#fb0a0a" stroke="#cc1010" stroke-width="1.2"/>
<circle cx="364.9" cy="1100.8" r="12.9" fill="#fb0a0a" stroke="#cc1010" stroke-width="1.2"/>
<circle cx="491.0" cy="1066.9" r="12.9" fill="#fb0a0a" stroke="#cc1010" stroke-width="1.2"/>
<circle cx="617.0" cy="949.4" r="12.9" fill="#fb0a0a" stroke="#cc1010" stroke-width="1.2"/>
<circle cx="743.0" cy="830.8" r="12.9" fill="#fb0a0a" stroke="#cc1010" stroke-width="1.2"/>
<circle cx="869.1" cy="620.0" r="12.9" fill="#fb0a0a" stroke="#cc1010" stroke-width="1.2"/>
<path d="M238.9,1141.5 L242.1,1141.0 L245.4,1140.5 L248.6,1140.0 L251.8,1139.5 L255.1,1139.0 L258.3,1138.5 L261.5,1138.0 L264.8,1137.5 L268.0,1137.0 L271.2,1136.5 L274.4,1136.0 L277.7,1135.6 L280.9,1135.1 L284.1,1134.6 L287.4,1134.1 L290.6,1133.6 L293.8,1133.1 L297.1,1132.6 L300.3,1132.1 L303.5,1131.6 L306.8,1131.1 L310.0,1130.6 L313.2,1130.1 L316.5,1129.6 L319.7,1129.1 L322.9,1128.6 L326.2,1128.1 L329.4,1127.6 L332.6,1127.1 L335.8,1126.6 L339.1,1126.1 L342.3,1125.6 L345.5,1125.1 L348.8,1124.6 L352.0,1124.0 L355.2,1123.5 L358.5,1123.0 L361.7,1122.5 L364.9,1121.9" fill="none" stroke="#0c0c0c" stroke-width="4.7" stroke-linecap="round" stroke-dasharray="21.4 27.6" stroke-dashoffset="1.2"/>
<path d="M364.9,1121.9 L368.2,1121.4 L371.4,1120.9 L374.6,1120.3 L377.9,1119.8 L381.1,1119.2 L384.3,1118.7 L387.6,1118.1 L390.8,1117.6 L394.0,1117.0 L397.2,1116.4 L400.5,1115.9 L403.7,1115.3 L406.9,1114.7 L410.2,1114.1 L413.4,1113.5 L416.6,1112.9 L419.9,1112.3 L423.1,1111.7 L426.3,1111.1 L429.6,1110.5 L432.8,1109.9 L436.0,1109.2 L439.3,1108.6 L442.5,1107.9 L445.7,1107.3 L449.0,1106.6 L452.2,1106.0 L455.4,1105.3 L458.6,1104.6 L461.9,1103.9 L465.1,1103.2 L468.3,1102.5 L471.6,1101.8 L474.8,1101.1 L478.0,1100.4 L481.3,1099.6 L484.5,1098.9 L487.7,1098.1 L491.0,1097.4" fill="none" stroke="#0c0c0c" stroke-width="4.7" stroke-linecap="round" stroke-dasharray="21.4 27.6" stroke-dashoffset="1.2"/>
<path d="M491.0,1097.4 L494.2,1096.6 L497.4,1095.8 L500.7,1095.0 L503.9,1094.2 L507.1,1093.4 L510.4,1092.6 L513.6,1091.8 L516.8,1090.9 L520.0,1090.1 L523.3,1089.2 L526.5,1088.3 L529.7,1087.4 L533.0,1086.5 L536.2,1085.6 L539.4,1084.7 L542.7,1083.8 L545.9,1082.8 L549.1,1081.9 L552.4,1080.9 L555.6,1079.9 L558.8,1079.0 L562.1,1077.9 L565.3,1076.9 L568.5,1075.9 L571.8,1074.8 L575.0,1073.8 L578.2,1072.7 L581.4,1071.6 L584.7,1070.5 L587.9,1069.4 L591.1,1068.3 L594.4,1067.1 L597.6,1066.0 L600.8,1064.8 L604.1,1063.6 L607.3,1062.4 L610.5,1061.2 L613.8,1059.9 L617.0,1058.7" fill="none" stroke="#0c0c0c" stroke-width="4.7" stroke-linecap="round" stroke-dasharray="21.4 27.6" stroke-dashoffset="1.2"/>
<path d="M617.0,1058.7 L620.2,1057.4 L623.5,1056.1 L626.7,1054.8 L629.9,1053.5 L633.1,1052.1 L636.4,1050.8 L639.6,1049.4 L642.8,1048.0 L646.1,1046.6 L649.3,1045.1 L652.5,1043.7 L655.8,1042.2 L659.0,1040.7 L662.2,1039.2 L665.5,1037.7 L668.7,1036.1 L671.9,1034.6 L675.2,1033.0 L678.4,1031.4 L681.6,1029.7 L684.9,1028.1 L688.1,1026.4 L691.3,1024.7 L694.5,1023.0 L697.8,1021.3 L701.0,1019.5 L704.2,1017.7 L707.5,1015.9 L710.7,1014.1 L713.9,1012.2 L717.2,1010.4 L720.4,1008.5 L723.6,1006.5 L726.9,1004.6 L730.1,1002.6 L733.3,1000.6 L736.6,998.6 L739.8,996.5 L743.0,994.5" fill="none" stroke="#0c0c0c" stroke-width="4.7" stroke-linecap="round" stroke-dasharray="21.4 27.6" stroke-dashoffset="1.2"/>
<path d="M743.0,994.5 L746.3,992.4 L749.5,990.2 L752.7,988.1 L755.9,985.9 L759.2,983.7 L762.4,981.5 L765.6,979.2 L768.9,976.9 L772.1,974.6 L775.3,972.3 L778.6,969.9 L781.8,967.5 L785.0,965.1 L788.2,962.7 L791.5,960.2 L794.7,957.7 L797.9,955.1 L801.2,952.5 L804.4,949.9 L807.6,947.3 L810.9,944.6 L814.1,941.9 L817.3,939.2 L820.5,936.5 L823.8,933.7 L827.0,930.8 L830.2,928.0 L833.5,925.1 L836.7,922.2 L839.9,919.2 L843.2,916.2 L846.4,913.2 L849.6,910.1 L852.8,907.1 L856.1,903.9 L859.3,900.8 L862.5,897.6 L865.8,894.3 L869.0,891.1" fill="none" stroke="#0c0c0c" stroke-width="4.7" stroke-linecap="round" stroke-dasharray="21.4 27.6" stroke-dashoffset="1.2"/>
<path d="M238.9,1141.5 L248.9,1139.9" stroke="#5a0c0c" stroke-width="4.7" stroke-linecap="round" fill="none"/>
</g>
<g font-weight="bold" font-size="39.8" fill="#050505">
<text x="103.30" y="1153.7" textLength="21.33" lengthAdjust="spacingAndGlyphs">0</text>
<text x="81.97" y="992.8" textLength="42.67" lengthAdjust="spacingAndGlyphs">50</text>
<text x="60.64" y="831.9" textLength="64.00" lengthAdjust="spacingAndGlyphs">100</text>
<text x="60.64" y="671.0" textLength="64.00" lengthAdjust="spacingAndGlyphs">150</text>
<text x="60.64" y="510.1" textLength="64.00" lengthAdjust="spacingAndGlyphs">200</text>
<text x="114.79" y="1210.3" textLength="64.00" lengthAdjust="spacingAndGlyphs">300</text>
<text x="241.01" y="1210.3" textLength="64.00" lengthAdjust="spacingAndGlyphs">400</text>
<text x="366.75" y="1210.3" textLength="64.00" lengthAdjust="spacingAndGlyphs">500</text>
<text x="492.69" y="1210.3" textLength="64.00" lengthAdjust="spacingAndGlyphs">600</text>
<text x="618.52" y="1210.3" textLength="64.00" lengthAdjust="spacingAndGlyphs">700</text>
<text x="744.84" y="1210.3" textLength="64.00" lengthAdjust="spacingAndGlyphs">800</text>
<text x="870.78" y="1210.3" textLength="64.00" lengthAdjust="spacingAndGlyphs">900</text>
</g>
<text x="282.96" y="1281.9" font-weight="bold" font-size="48.2" fill="#050505" textLength="548.78" lengthAdjust="spacingAndGlyphs">Hot-side temperature (K)</text>
<text transform="translate(45.1,1104.6) rotate(-90)" font-weight="bold" font-size="48.0" fill="#050505" textLength="553.6" lengthAdjust="spacingAndGlyphs">Power density (mW cm<tspan font-size="34" dy="-18.6">-2</tspan><tspan dy="18.6">)</tspan></text>
<g font-weight="bold" font-size="39.4" fill="#050505">
<text x="251.54" y="544.4" textLength="134.20" lengthAdjust="spacingAndGlyphs">Cuboid</text>
<text x="251.81" y="593.1" textLength="350.29" lengthAdjust="spacingAndGlyphs">Truncated pyramid</text>
<text x="249.66" y="641.9" textLength="503.38" lengthAdjust="spacingAndGlyphs">Reverse truncated pyramid</text>
<text x="251.37" y="690.6" textLength="333.19" lengthAdjust="spacingAndGlyphs">Inverse hourglass</text>
<text x="250.67" y="739.4" textLength="411.80" lengthAdjust="spacingAndGlyphs">Multi-hollow rectangle</text>
<text x="252.46" y="788.1" textLength="24.59" lengthAdjust="spacingAndGlyphs">Y</text>
<text x="251.89" y="836.9" textLength="186.68" lengthAdjust="spacingAndGlyphs">Reverse Y</text>
<text x="251.65" y="885.6" textLength="384.89" lengthAdjust="spacingAndGlyphs">Optimised hourglass</text>
</g>
<g filter="url(#soft)">
<rect x="185.7" y="519.8" width="24" height="24" fill="#000000"/>
<polygon points="197.7,562.9 213.2,589.9 182.2,589.9" fill="#1fee1f" stroke="#44c044" stroke-width="1"/>
<polygon points="197.7,647.2 213.2,620.2 182.2,620.2" fill="#2616ee" stroke="#2a2ab8" stroke-width="1"/>
<polygon points="197.7,663.7 211.8,673.9 206.4,690.5 189.0,690.5 183.6,673.9" fill="#8a8012"  stroke="#8a8012" stroke-width="0.7" stroke-linejoin="round"/>
<polygon points="197.7,712.0 209.9,719.0 209.9,733.1 197.7,740.2 185.5,733.1 185.5,719.0" fill="#7212e2" stroke="#5c14b8" stroke-width="1"/>
<polygon points="197.7,758.6 213.9,774.6 197.7,790.6 181.5,774.6" fill="#1eeeee"  stroke="#1eeeee" stroke-width="0.7" stroke-linejoin="round"/>
<polygon points="197.7,808.7 201.8,818.6 212.4,819.4 204.3,826.4 206.8,836.8 197.7,831.1 188.6,836.8 191.1,826.4 183.0,819.4 193.6,818.6" fill="#f41cf4" stroke="#cc22cc" stroke-width="0.8"/>
<circle cx="197.7" cy="871.8" r="12.9" fill="#fb0a0a" stroke="#cc1010" stroke-width="1.2"/>
</g>
</g>
</svg>
</body>
</html>
